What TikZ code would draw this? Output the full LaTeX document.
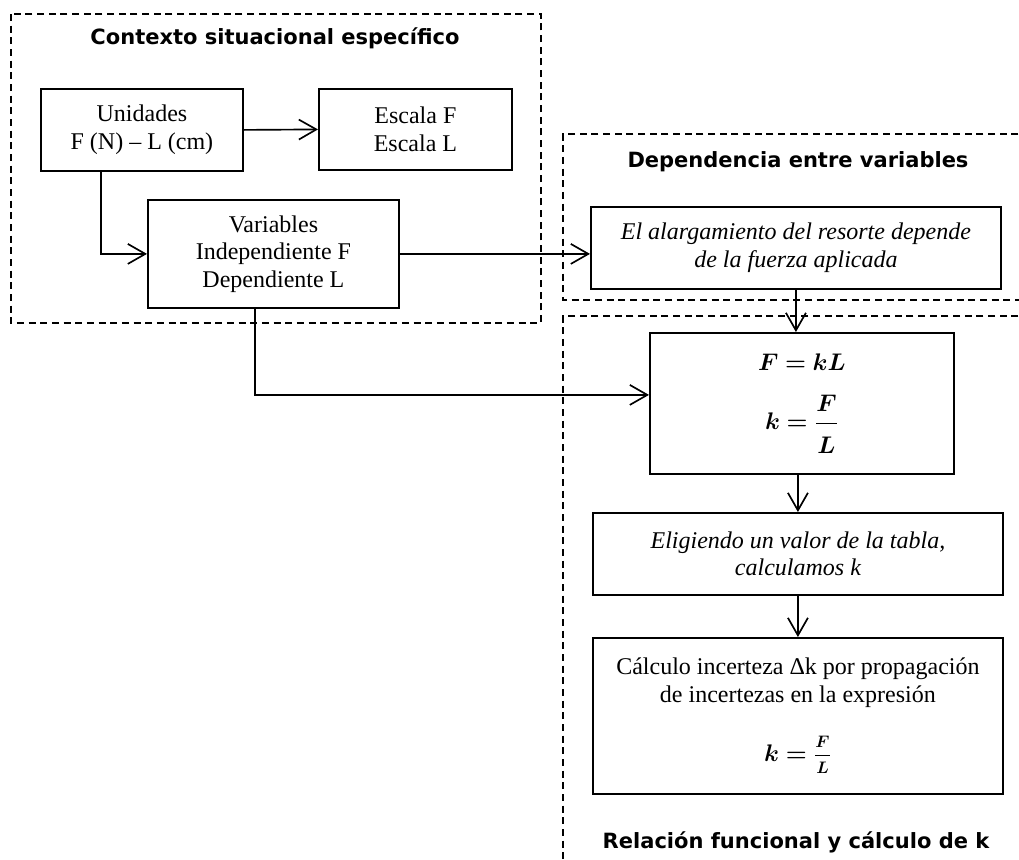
\documentclass[tikz,border=0pt]{standalone}
\usepackage{amsmath}
\usepackage{bm}
\usepackage{fontspec}
\usepackage{tikz}
\usetikzlibrary{arrows.meta,calc}
\setmainfont{Liberation Serif}
\newfontfamily\headfont{DejaVu Sans}
\newcommand{\boxtext}{\fontsize{14.4pt}{16.6pt}\selectfont}
\newcommand{\headtext}{\headfont\bfseries\fontsize{12.6pt}{15pt}\selectfont}

\begin{document}
\begin{tikzpicture}[x=0.6pt, y=-0.6pt, >={Straight Barb[length=10.5pt,width=12pt]},
    stagebox/.style={draw, line width=1.1pt, align=center, inner sep=0pt, font=\boxtext, anchor=north west},
    frame/.style={line width=1.1pt, dash pattern=on 4.2pt off 2.8pt},
    flow/.style={->, line width=1pt},
    heading/.style={font=\headtext, inner sep=0pt}]
    \useasboundingbox (0,0) rectangle (1019,859);
    % grupos
    \draw[frame] (11,14) rectangle (541,323);
    \draw[frame] (1030,134) -- (563,134) -- (563,300) -- (1030,300);
    \draw[frame] (1030,316) -- (563,316) -- (563,870);
    \node[heading] (ctxtitle) at (275,38) {Contexto situacional específico};
    \node[heading] (deptitle) at (798,162) {Dependencia entre variables};
    \node[heading] (reltitle) at (796,842) {Relación funcional y cálculo de k};
    % cajas
    \node[stagebox, minimum width=121.2pt, minimum height=49.2pt] (units) at (40,88) {Unidades\\F (N) – L (cm)};
    \node[stagebox, minimum width=115.8pt, minimum height=48.6pt] (scales) at (318,88) {Escala F\\Escala L};
    \node[stagebox, minimum width=150.6pt, minimum height=64.8pt] (vars) at (147,199) {Variables\\Independiente F\\Dependiente L};
    \node[stagebox, minimum width=246pt, minimum height=49.2pt, font=\boxtext\itshape] (stretch) at (590,206) {El alargamiento del resorte depende\\de la fuerza aplicada};
    \node[stagebox, minimum width=182.4pt, minimum height=84.6pt] (law) at (649,332)
        {$\bm{F=kL}$\\[14pt]$\bm{k=\dfrac{F\rule[-3.5pt]{0pt}{0pt}}{L\rule{0pt}{16pt}}}$};
    \node[stagebox, minimum width=246pt, minimum height=49.2pt, font=\boxtext\itshape] (pick) at (592,512) {Eligiendo un valor de la tabla,\\calculamos k};
    \node[stagebox, minimum width=246pt, minimum height=93.6pt] (error) at (592,637)
        {Cálculo incerteza Δk por propagación\\de incertezas en la expresión\\[16pt]$\bm{k=\tfrac{F\rule[-4pt]{0pt}{0pt}}{L\rule{0pt}{10pt}}}$};
    % conexiones
    \draw[flow] (units.east) -- (scales.west);
    \draw[flow] ([xshift=-24.6pt]units.south) |- (vars.west);
    \draw[flow] (vars.east) -- (vars.east -| stretch.west);
    \draw[flow] ([xshift=-11.1pt]vars.south) |- ([yshift=5.1pt]law.west);
    \draw[flow] (stretch.south) -- (stretch.south |- law.north);
    \draw[flow] (pick.north |- law.south) -- (pick.north);
    \draw[flow] (pick.south) -- (error.north);
\end{tikzpicture}
\end{document}
